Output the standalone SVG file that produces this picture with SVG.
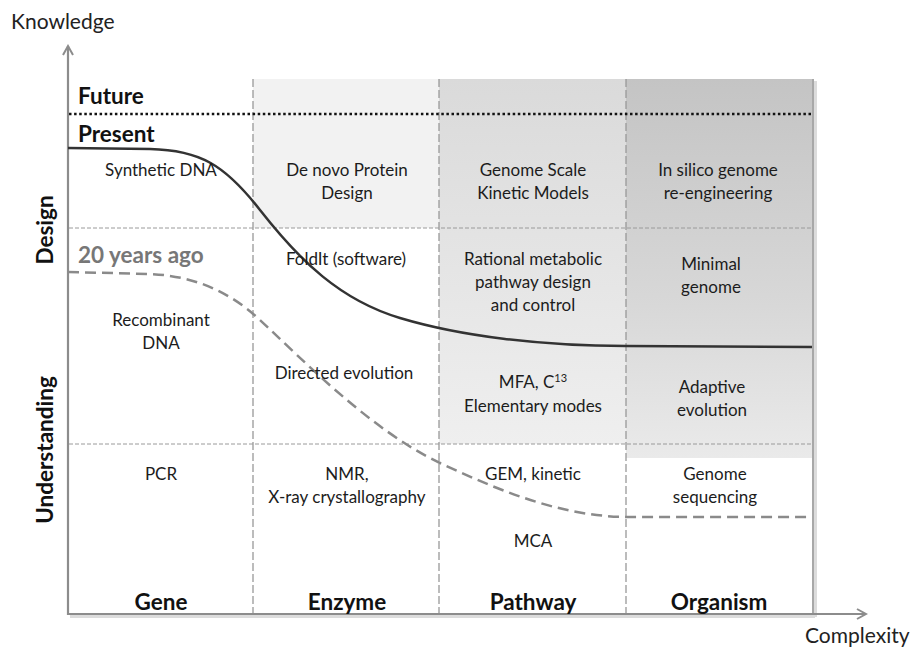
<svg xmlns="http://www.w3.org/2000/svg" width="922" height="647" viewBox="0 0 922 647">
<defs>
<linearGradient id="gPath" x1="0" y1="0" x2="0" y2="1">
<stop offset="0" stop-color="#dadada"/>
<stop offset="1" stop-color="#efefef"/>
</linearGradient>
<linearGradient id="gOrg" x1="0" y1="0" x2="0" y2="1">
<stop offset="0" stop-color="#c4c4c4"/>
<stop offset="0.6" stop-color="#d8d8d8"/>
<stop offset="1" stop-color="#eaeaea"/>
</linearGradient>
<marker id="arr" viewBox="0 0 12 12" refX="10" refY="6" markerWidth="12" markerHeight="12" markerUnits="userSpaceOnUse" orient="auto">
<path d="M1,1 L10,6 L1,11" fill="none" stroke="#8c8c8c" stroke-width="2"/>
</marker>
</defs>
<style>
text{font-family:Lato,"Open Sans","Liberation Sans",sans-serif;fill:#1c1c1c}
.b{font-size:17px;text-anchor:middle}
.h{font-size:22.5px;font-weight:bold;fill:#111}
.hc{font-size:22.5px;font-weight:bold;fill:#111;text-anchor:middle}
.ax{font-size:21px;fill:#222}
.div{stroke:#999;stroke-width:1.3;stroke-dasharray:8 3;fill:none}
.row{stroke:#9a9a9a;stroke-width:1;stroke-dasharray:4 2;fill:none}
</style>
<rect width="922" height="647" fill="#fff"/>
<g id="background">
<rect x="253" y="79" width="186" height="149" fill="#f2f2f2"/>
<rect x="439" y="79" width="187" height="365" fill="url(#gPath)"/>
<rect x="626" y="79" width="187" height="379" fill="url(#gOrg)"/>
<line x1="815.5" y1="81" x2="815.5" y2="617" stroke="#dcdcdc" stroke-width="3"/>
<line x1="70" y1="616.5" x2="815" y2="616.5" stroke="#dcdcdc" stroke-width="3"/>
<line x1="813" y1="79" x2="813" y2="614" stroke="#a8a8a8" stroke-width="2"/>
</g>
<g id="grid">
<line class="div" x1="253" y1="79" x2="253" y2="614"/>
<line class="div" x1="439" y1="79" x2="439" y2="614"/>
<line class="div" x1="626" y1="79" x2="626" y2="614"/>
<line class="row" x1="69" y1="228" x2="812" y2="228"/>
<line class="row" x1="69" y1="444" x2="812" y2="444"/>
<line x1="69" y1="114" x2="812" y2="114" stroke="#111" stroke-width="2.5" stroke-dasharray="2.5 2.6"/>
</g>
<g id="axes">
<line x1="68" y1="615" x2="68" y2="46" stroke="#8c8c8c" stroke-width="2.2" marker-end="url(#arr)"/>
<line x1="67" y1="614" x2="866" y2="614" stroke="#8c8c8c" stroke-width="2.2" marker-end="url(#arr)"/>
<text class="ax" x="11" y="29">Knowledge</text>
<text class="ax" x="805" y="643">Complexity</text>
</g>
<g id="connectors">
<path id="present-curve" d="M68,148 L150,149 C200,150 225,165 260,210 C300,261 340,300 400,318 C460,336 540,346 626,346 L812,347" fill="none" stroke="#333" stroke-width="2.5"/>
<path id="past-curve" d="M68,272 L150,274 C195,276 230,292 260,320 C300,357 370,430 440,463 C500,491 560,516 626,517 L812,517" fill="none" stroke="#8a8a8a" stroke-width="2.5" stroke-dasharray="11 6"/>
</g>
<g id="level-labels">
<text class="h" x="78" y="104">Future</text>
<text class="h" x="78" y="142">Present</text>
<text class="h" x="78" y="263" style="fill:#777">20 years ago</text>
<text class="hc" transform="translate(53,230) rotate(-90)">Design</text>
<text class="hc" transform="translate(53,450) rotate(-90)">Understanding</text>
</g>
<g id="column-labels">
<text class="hc" x="161" y="610">Gene</text>
<text class="hc" x="347" y="610">Enzyme</text>
<text class="hc" x="533" y="610">Pathway</text>
<text class="hc" x="719" y="610">Organism</text>
</g>
<g id="gene">
<text class="b" x="161" y="176">Synthetic DNA</text>
<text class="b" x="161" y="326">Recombinant</text>
<text class="b" x="161" y="349">DNA</text>
<text class="b" x="161" y="480">PCR</text>
</g>
<g id="enzyme">
<text class="b" x="347" y="176">De novo Protein</text>
<text class="b" x="347" y="199">Design</text>
<text class="b" x="346" y="265">FoldIt (software)</text>
<text class="b" x="344" y="379">Directed evolution</text>
<text class="b" x="347" y="480">NMR,</text>
<text class="b" x="347" y="503">X-ray crystallography</text>
</g>
<g id="pathway">
<text class="b" x="533" y="176">Genome Scale</text>
<text class="b" x="533" y="199">Kinetic Models</text>
<text class="b" x="533" y="265">Rational metabolic</text>
<text class="b" x="533" y="288">pathway design</text>
<text class="b" x="533" y="311">and control</text>
<text class="b" x="533" y="388">MFA, C<tspan dy="-6" font-size="11">13</tspan></text>
<text class="b" x="533" y="412">Elementary modes</text>
<text class="b" x="533" y="480">GEM, kinetic</text>
<text class="b" x="533" y="547">MCA</text>
</g>
<g id="organism">
<text class="b" x="718" y="176">In silico genome</text>
<text class="b" x="718" y="199">re-engineering</text>
<text class="b" x="711" y="270">Minimal</text>
<text class="b" x="711" y="293">genome</text>
<text class="b" x="712" y="393">Adaptive</text>
<text class="b" x="712" y="416">evolution</text>
<text class="b" x="715" y="480">Genome</text>
<text class="b" x="715" y="503">sequencing</text>
</g>
</svg>
